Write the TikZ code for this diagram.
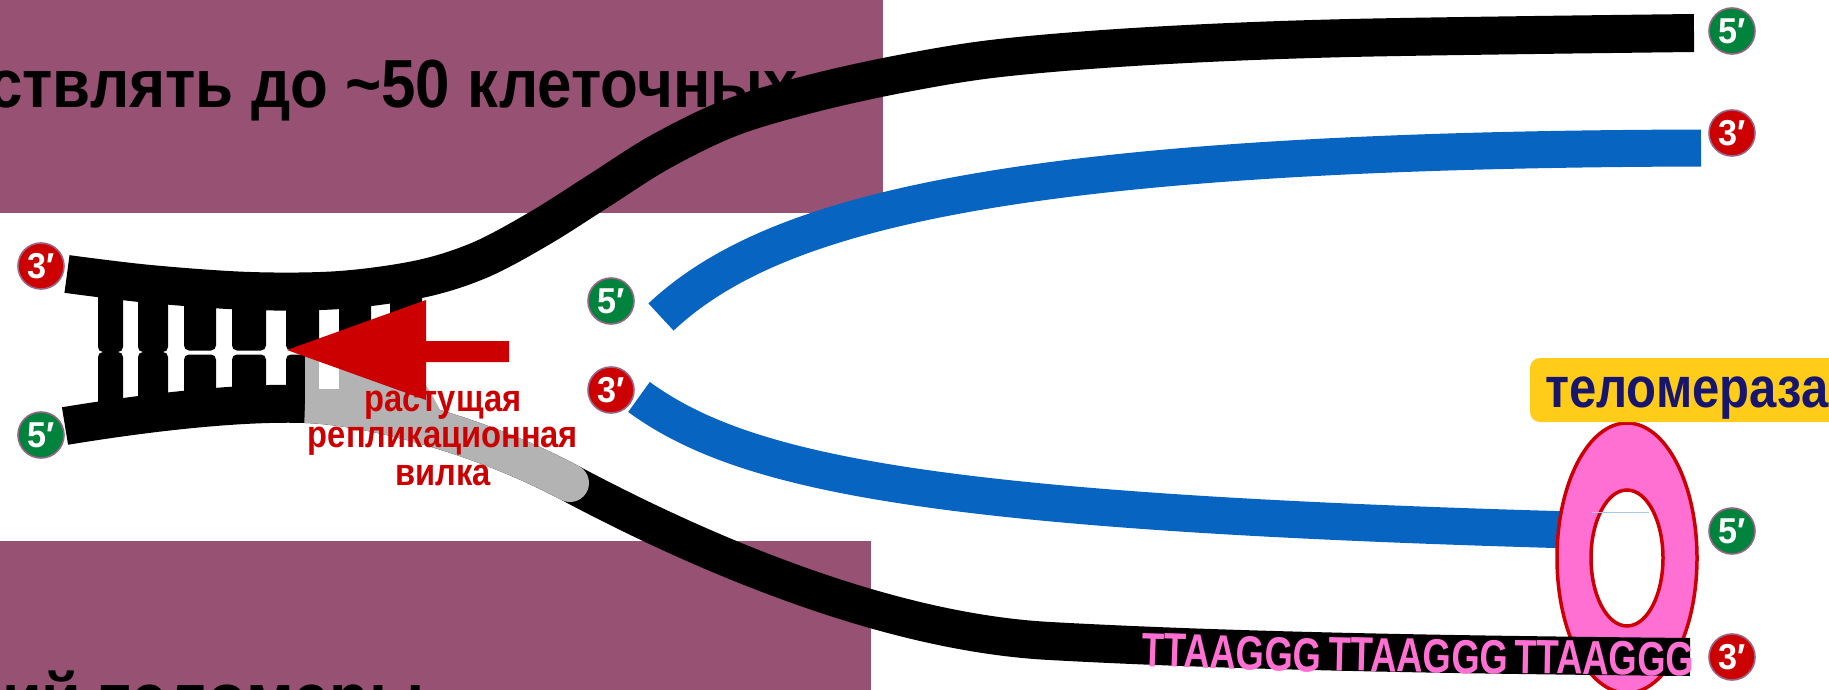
\documentclass[tikz,border=0pt]{standalone}
\usepackage{fontspec}
\setmainfont{Liberation Sans}
\definecolor{panel}{HTML}{975173}
\definecolor{dnablue}{HTML}{0764C0}
\definecolor{newgrey}{HTML}{B3B3B3}
\definecolor{forkred}{HTML}{CC0000}
\definecolor{endgreen}{HTML}{00843D}
\definecolor{endrim}{HTML}{9A6486}
\definecolor{enzpink}{HTML}{FF70D2}
\definecolor{enzgold}{HTML}{FFCC1A}
\definecolor{enznavy}{HTML}{16166E}
\definecolor{faintblue}{HTML}{A8C6E6}

\tikzset{
  strand/.style={line width=38pt, line cap=butt},
  blackstrand/.style={strand, draw=black},
  bluestrand/.style={strand, draw=dnablue, line width=37pt},
  rung/.style={fill=black, rounded corners=5pt},
  endmark/.style={circle, minimum size=46pt, inner sep=0pt, draw=endrim,
    line width=1.6pt, text=white, font=\bfseries\fontsize{36}{36}\selectfont},
  five/.style={endmark, fill=endgreen},
  three/.style={endmark, fill=forkred},
  forklabel/.style={anchor=base, inner sep=0pt, text=forkred,
    font=\bfseries\fontsize{38}{38}\selectfont},
  telrepeat/.style={anchor=base west, inner sep=0pt, text=enzpink,
    font=\bfseries\fontsize{48}{48}\selectfont},
  slidetext/.style={anchor=base west, inner sep=0pt, text=black,
    font=\bfseries\fontsize{68}{68}\selectfont},
}

\begin{document}
\begin{tikzpicture}[x=1pt,y=-1pt]
\clip (0,0) rectangle (1829,690);
\fill[white] (0,0) rectangle (1829,690);

% slide panels behind the drawing
\fill[panel] (0,0) rectangle (883,213);
\fill[panel] (0,541) rectangle (871,690);
\node[slidetext] (headline) at (-12,108) {\scalebox{0.91}[1]{ствлять до \textasciitilde50 клеточных}};
\node[slidetext] (footline) at (2,721) {\scalebox{0.95}[1]{ий теломеры}};

% upper parental strand
\draw[blackstrand] plot[smooth, tension=0.55] coordinates {
  (67,274) (150,284) (250,291) (340,290) (420,279) (480,260) (540,228)
  (600,190) (660,152) (730,118) (810,94) (900,74) (1000,58) (1150,46)
  (1350,38) (1694,33)};

% daughter strands
\draw[bluestrand] (661,317) .. controls (770,215) and (1000,150) .. (1701,148);
\draw[bluestrand] (639,397) .. controls (749,477) and (950,515) .. (1649,532);

% telomerase ring
\draw[fill=enzpink, draw=forkred, line width=3.5pt] (1627,558) ellipse [x radius=70, y radius=135];
\draw[fill=white, draw=forkred, line width=3.5pt] (1627,558) ellipse [x radius=36, y radius=68];
\draw[faintblue, line width=1pt] (1592,512) -- (1649,512);

% base pairs of the unreplicated duplex (upper halves)
\fill[rung] (98,270) rectangle (123,352);
\fill[rung] (138,272) rectangle (168,352);
\fill[rung] (184,274) rectangle (216,350.5);
\fill[rung] (232,276) rectangle (266,350.5);
\fill[rung] (286,278) rectangle (319,350.5);
\fill[rung] (339,280) rectangle (371,350.5);
\fill[rung] (390,280) rectangle (422,350.5);
% lower halves
\fill[rung] (98,352) rectangle (123,428);
\fill[rung] (138,352) rectangle (168,425);
\fill[rung] (184,354.5) rectangle (216,420);
\fill[rung] (232,354.5) rectangle (266,418);
\fill[rung] (286,354.5) rectangle (319,415);

% lower parental strand
\draw[blackstrand] (65,426) .. controls (150,412) and (240,402) .. (305,404)
  .. controls (370,406) and (480,435) .. (570,483)
  .. controls (690,547) and (880,632) .. (1050,641)
  .. controls (1250,652) and (1490,655) .. (1690,657);

% newly made strand at the fork
\draw[strand, draw=newgrey] (305,404) .. controls (370,406) and (480,435) .. (570,483);
\fill[newgrey] (570,483) circle [radius=19];
\fill[newgrey] (305,356) -- (392,356) .. controls (412,360) and (428,385) .. (445,420)
  -- (445,430) -- (305,410) -- cycle;
\fill[white] (319,356) rectangle (339,389);

% telomeric repeats
\node[telrepeat, rotate=-2] (rep1) at (1141,666) {\scalebox{0.76}[1]{TTAAGGG}};
\node[telrepeat, rotate=-1.5] (rep2) at (1328,670) {\scalebox{0.76}[1]{TTAAGGG}};
\node[telrepeat, rotate=-1] (rep3) at (1514,673) {\scalebox{0.76}[1]{TTAAGGG}};

% direction of fork movement
\fill[forkred] (287,350) -- (426,300) -- (426,341) -- (509,341) -- (509,362)
  -- (426,362) -- (426,400) -- cycle;
\node[forklabel] (fork1) at (443,411) {\scalebox{0.86}[1]{растущая}};
\node[forklabel] (fork2) at (443,447) {\scalebox{0.86}[1]{репликационная}};
\node[forklabel] (fork3) at (443,485) {\scalebox{0.86}[1]{вилка}};

% strand ends
\node[three] (endA) at (41,266) {\scalebox{0.95}[1]{3′}};
\node[five]  (endB) at (41,435) {\scalebox{0.95}[1]{5′}};
\node[five]  (endC) at (611,301) {\scalebox{0.95}[1]{5′}};
\node[three] (endD) at (611,390) {\scalebox{0.95}[1]{3′}};
\node[five]  (endE) at (1732,31) {\scalebox{0.95}[1]{5′}};
\node[three] (endF) at (1732,133) {\scalebox{0.95}[1]{3′}};
\node[five]  (endG) at (1732,531) {\scalebox{0.95}[1]{5′}};
\node[three] (endH) at (1732,657) {\scalebox{0.95}[1]{3′}};

% enzyme label
\fill[enzgold, rounded corners=10pt] (1530,358) rectangle (1860,422);
\node[anchor=base west, inner sep=0pt, text=enznavy,
  font=\bfseries\fontsize{57}{57}\selectfont] (enzyme) at (1545,407)
  {\scalebox{0.86}[1]{теломераза}};
\end{tikzpicture}
\end{document}
